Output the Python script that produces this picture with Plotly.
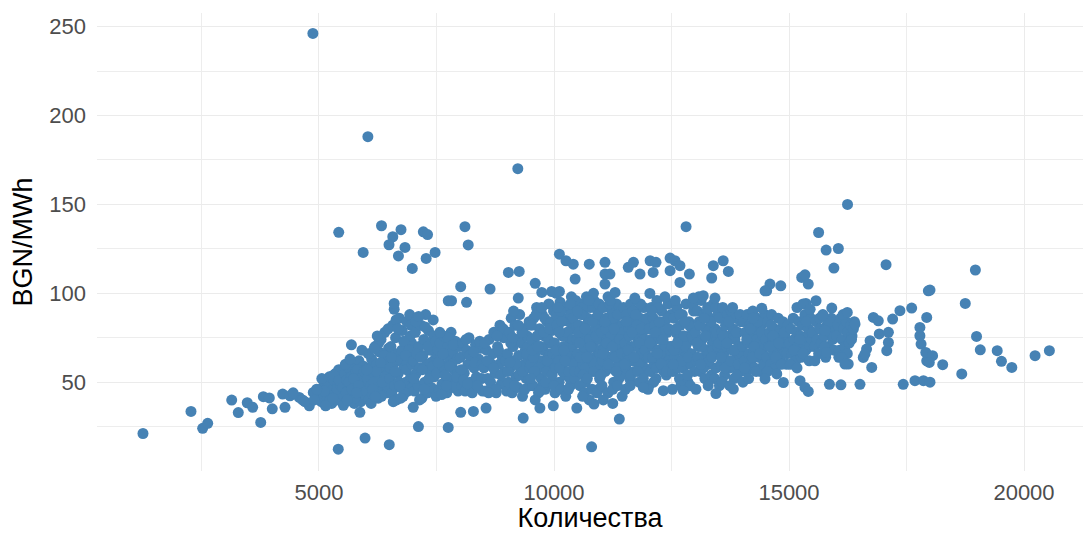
import plotly.graph_objects as go

# ---- dense core, by quantity bands ----
b01_x = [5020,5050,5080,5100,5120,5150,5180,5200,5220,5250,
         5270,5300,5320,5340,5360,5380,5400,5420,5440,5460,
         5480,5060,5140,5230,5310,5390,5470,5110,5290,5430]
b01_y = [44,39,47,42,50,45,41,48,53,44,
         38,46,51,43,55,40,49,57,45,52,
         42,52,37,40,54,46,48,45,41,51]
b02_x = [5510,5530,5550,5570,5590,5610,5630,5650,5670,5690,
         5710,5730,5750,5770,5790,5810,5830,5850,5870,5890,
         5910,5930,5950,5970,5990,5520,5580,5640,5700,5760,
         5820,5880,5940,5560,5660,5740,5840,5960,5600,5800]
b02_y = [47,42,55,39,51,45,58,41,49,53,
         44,60,38,47,56,42,50,62,45,39,
         54,48,59,43,51,37,44,50,46,41,
         57,52,47,60,63,52,48,56,40,44]
b03_x = [6010,6030,6060,6080,6100,6120,6150,6170,6190,6210,
         6230,6260,6280,6300,6320,6340,6360,6380,6400,6420,
         6440,6460,6480,6050,6110,6160,6220,6270,6330,6390,
         6450,6490,6020,6140,6240,6310,6410,6470,6200,6350]
b03_y = [45,52,40,58,48,63,43,55,70,47,
         60,41,67,52,74,45,58,49,78,62,
         54,44,69,66,38,50,56,72,42,65,
         48,59,57,46,76,61,53,80,42,50]
b04_x = [6510,6530,6550,6570,6590,6610,6630,6650,6670,6690,
         6710,6730,6750,6770,6790,6810,6830,6850,6870,6890,
         6910,6930,6950,6970,6990,6520,6580,6640,6700,6760,
         6820,6880,6940,6540,6620,6680,6740,6800,6860,6920,
         6980,6600,6720,6840,6960]
b04_y = [52,70,44,82,60,48,75,40,66,55,
         86,47,62,79,42,58,71,50,84,45,
         64,88,53,72,47,58,39,85,50,68,
         44,61,76,64,56,80,41,73,57,68,
         60,91,48,65,82]
b05_x = [7010,7030,7050,7070,7090,7110,7130,7150,7170,7190,
         7210,7230,7250,7270,7290,7310,7330,7350,7370,7390,
         7410,7430,7450,7470,7490,7020,7080,7140,7200,7260,
         7320,7380,7440,7060,7160,7240,7340,7420,7120,7480]
b05_y = [62,45,78,55,86,48,70,58,82,41,
         65,74,50,88,60,44,79,56,68,47,
         72,85,53,63,42,52,66,40,57,81,
         70,61,76,84,64,46,52,59,87,73]
b06_x = [7510,7530,7560,7580,7600,7620,7650,7670,7700,7720,
         7740,7760,7790,7810,7830,7850,7870,7900,7920,7940,
         7960,7980,7540,7610,7680,7750,7820,7890,7960,7570,
         7640,7710,7780,7860,7930]
b06_y = [55,68,46,72,60,49,76,58,65,44,
         70,52,62,78,47,67,57,73,50,63,
         45,70,61,43,54,75,60,48,56,78,
         66,48,59,71,53]
b07_x = [8010,8040,8060,8090,8110,8140,8170,8190,8220,8250,
         8270,8300,8330,8350,8380,8400,8430,8460,8480,8030,
         8080,8130,8200,8260,8320,8370,8420,8470,8160,8290]
b07_y = [64,48,72,55,45,68,60,75,50,66,
         46,58,71,53,47,63,69,52,45,57,
         51,74,65,44,61,48,73,60,49,67]
b08_x = [8510,8540,8560,8590,8620,8640,8670,8700,8720,8750,
         8770,8800,8830,8850,8880,8900,8930,8960,8990,8530,
         8580,8650,8710,8760,8820,8870,8920,8970,8610,8790]
b08_y = [58,45,68,52,74,61,47,66,78,55,
         44,70,60,82,49,64,75,56,45,72,
         62,50,58,46,68,54,80,62,44,76]
b09_x = [9010,9030,9050,9070,9090,9110,9130,9150,9170,9190,
         9210,9230,9250,9270,9290,9310,9330,9350,9370,9390,
         9410,9430,9450,9470,9490,9020,9080,9140,9200,9260,
         9320,9380,9440,9060,9160,9240,9340,9420,9120,9480]
b09_y = [66,50,78,58,86,44,70,62,82,53,
         74,47,65,88,57,72,42,80,60,68,
         52,76,63,84,48,56,72,90,60,54,
         78,46,70,61,48,82,56,66,75,58]
b10_x = [9510,9530,9550,9570,9590,9610,9630,9650,9670,9690,
         9710,9730,9750,9770,9790,9810,9830,9850,9870,9890,
         9910,9930,9950,9970,9990,9520,9560,9600,9640,9680,
         9720,9760,9800,9840,9880,9920,9960,9540,9620,9700,
         9780,9860,9940,9580,9660,9740,9820,9900,9980,9500]
b10_y = [60,74,48,86,66,55,92,70,44,80,
         62,52,88,68,76,46,58,84,64,94,
         72,50,79,60,90,82,64,40,76,58,
         70,48,86,56,74,66,54,68,88,45,
         78,62,84,56,70,92,50,80,66,52]
b11_x = [10010,10030,10050,10070,10090,10110,10130,10150,10170,10190,
         10210,10230,10250,10270,10290,10310,10330,10350,10370,10390,
         10410,10430,10450,10470,10490,10020,10060,10100,10140,10180,
         10220,10260,10300,10340,10380,10420,10460,10040,10080,10120,
         10160,10200,10240,10280,10320,10360,10400,10440,10480,10000,
         10050,10150,10250,10350,10450,10110,10210,10310,10410,10490]
b11_y = [72,58,88,64,80,50,95,68,76,60,
         86,54,92,70,62,84,74,48,98,66,
         80,58,90,72,64,44,82,62,90,56,
         76,66,86,52,70,60,96,68,92,58,
         84,70,62,78,56,88,74,52,82,48,
         100,46,42,94,56,78,68,46,86,74]
b12_x = [10510,10530,10550,10570,10590,10610,10630,10650,10670,10690,
         10710,10730,10750,10770,10790,10810,10830,10850,10870,10890,
         10910,10930,10950,10970,10990,10520,10560,10600,10640,10680,
         10720,10760,10800,10840,10880,10920,10960,10540,10580,10620,
         10660,10700,10740,10780,10820,10860,10900,10940,10980,10500,
         10550,10650,10750,10850,10950,10610,10710,10810,10910,10990]
b12_y = [66,82,56,94,72,60,88,76,50,98,
         68,84,62,92,56,78,70,96,64,86,
         58,90,74,52,82,78,64,92,70,58,
         86,74,62,100,80,68,94,72,88,54,
         80,64,96,70,84,60,76,88,66,90,
         48,44,40,56,46,42,52,46,44,60]
b13_x = [11010,11030,11050,11070,11090,11110,11130,11150,11170,11190,
         11210,11230,11250,11270,11290,11310,11330,11350,11370,11390,
         11410,11430,11450,11470,11490,11020,11060,11100,11140,11180,
         11220,11260,11300,11340,11380,11420,11460,11040,11080,11120,
         11160,11200,11240,11280,11320,11360,11400,11440,11480,11000,
         11150,11250,11350,11450,11050]
b13_y = [78,62,92,70,56,86,74,98,64,82,
         58,90,72,50,84,66,94,76,60,88,
         70,54,82,74,62,48,68,80,58,94,
         76,86,64,72,52,90,78,66,84,72,
         60,96,70,80,56,88,74,66,92,54,
         44,46,48,42,40]
b14_x = [11510,11530,11550,11570,11590,11610,11630,11650,11670,11690,
         11710,11730,11750,11770,11790,11810,11830,11850,11870,11890,
         11910,11930,11950,11970,11990,11520,11560,11600,11640,11680,
         11720,11760,11800,11840,11880,11920,11960,11540,11580,11620,
         11660,11700,11740,11780,11820,11860,11900,11940,11980,11500]
b14_y = [72,58,88,66,80,52,94,70,62,84,
         56,76,90,64,74,50,86,68,60,78,
         92,58,72,82,64,46,62,76,54,90,
         70,82,60,94,66,74,56,84,68,48,
         78,64,88,56,72,80,52,68,86,60]
b15_x = [12010,12030,12050,12070,12090,12110,12130,12150,12170,12190,
         12210,12230,12250,12270,12290,12310,12330,12350,12370,12390,
         12410,12430,12450,12470,12490,12020,12060,12100,12140,12180,
         12220,12260,12300,12340,12380,12420,12460,12040,12080,12120,
         12160,12200,12240,12280,12320,12360,12400,12440,12480,12000]
b15_y = [64,80,56,92,70,86,60,74,52,96,
         68,82,62,76,90,58,72,84,66,54,
         78,94,62,70,88,48,74,64,82,58,
         92,66,78,56,70,86,60,72,90,50,
         78,66,84,60,74,98,56,80,68,46]
b16_x = [12510,12530,12550,12570,12590,12610,12630,12650,12670,12690,
         12710,12730,12750,12770,12790,12810,12830,12850,12870,12890,
         12910,12930,12950,12970,12990,12520,12560,12600,12640,12680,
         12720,12760,12800,12840,12880,12920,12960,12540,12620,12700,
         12780,12860,12940,12580,12900]
b16_y = [70,56,86,64,78,92,60,74,52,82,
         68,88,58,76,64,94,72,50,84,66,
         60,80,74,90,56,46,68,80,58,88,
         62,76,70,54,82,66,94,60,72,48,
         84,64,76,96,48]
b17_x = [13010,13030,13050,13070,13090,13110,13130,13150,13170,13190,
         13210,13230,13250,13270,13290,13310,13330,13350,13370,13390,
         13410,13430,13450,13470,13490,13020,13060,13100,13140,13180,
         13220,13260,13300,13340,13380,13420,13460,13040,13120,13200,
         13280,13360,13440,13080,13480]
b17_y = [78,62,90,70,84,56,96,74,64,88,
         52,80,68,92,60,76,86,54,72,94,
         66,80,58,74,88,46,64,82,70,58,
         76,90,62,84,68,52,78,72,60,86,
         48,64,92,98,70]
b18_x = [13510,13530,13550,13570,13590,13610,13630,13650,13670,13690,
         13710,13730,13750,13770,13790,13810,13830,13850,13870,13890,
         13910,13930,13950,13970,13990,13520,13560,13600,13640,13680,
         13720,13760,13800,13840,13880,13920,13960,13580,13740,13900]
b18_y = [72,86,60,78,92,66,54,82,70,88,
         62,76,58,90,68,80,52,74,86,64,
         78,70,56,84,66,48,64,76,58,72,
         84,62,92,68,78,60,88,50,48,54]
b19_x = [14010,14030,14050,14070,14090,14110,14130,14150,14170,14190,
         14210,14230,14250,14270,14290,14310,14330,14350,14370,14390,
         14410,14430,14450,14470,14490,14020,14060,14100,14140,14180,
         14220,14260,14300,14340,14380,14420,14460,14240]
b19_y = [70,84,62,78,56,88,72,66,82,60,
         76,90,68,58,80,74,86,64,72,56,
         82,68,76,62,88,50,58,74,52,80,
         64,70,56,84,66,78,60,86]
b20_x = [14510,14530,14550,14570,14590,14610,14630,14650,14670,14690,
         14710,14730,14750,14770,14790,14810,14830,14850,14870,14890,
         14910,14930,14950,14970,14990,14540,14600,14660,14720,14780,
         14840,14900,14960,14620]
b20_y = [74,64,84,70,78,60,88,72,66,80,
         58,76,68,86,74,62,80,70,84,66,
         76,72,60,82,68,56,70,76,64,72,
         60,78,66,82]
b21_x = [15010,15040,15060,15090,15110,15140,15160,15190,15210,15240,
         15260,15290,15310,15340,15360,15390,15410,15440,15460,15490,
         15030,15100,15170,15230,15300,15370,15430,15480]
b21_y = [72,80,66,86,74,62,78,70,84,76,
         64,82,72,88,68,76,80,70,86,74,
         60,68,58,74,66,84,62,78]
b22_x = [15510,15540,15570,15600,15630,15660,15690,15720,15750,15780,
         15810,15840,15870,15900,15930,15960,15990,15550,15650,15750,
         15850,15950]
b22_y = [78,70,84,74,66,80,72,88,76,64,
         82,70,78,86,74,68,80,62,86,70,
         84,76]
b23_x = [16010,16040,16070,16100,16130,16160,16190,16220,16250,16280,
         16310,16340,16370,16060,16150,16240,16330,16390]
b23_y = [76,82,68,86,74,80,70,84,78,72,
         82,76,80,64,88,66,74,84]

# ---- scattered points ----
high_x = [4870,6040,9230,16245,5420,5940,6330,6570,6490,6745,
          6830,6690,6985,7220,7310,7470,7280,6600,7750,8105,
          8175,8015,8640,7820,8140,9030,9260,9240,9600,9740,
          9950,10115,10115,10255,10410,10750,11085,11085,10450,12810,
          11190,11085,11580,11690,11830,12045,12170,12110,12470,12575,
          12680,12470,12880,12680,13390,13600,13710,13355,14525,14595,
          14825,15270,15340,15410,15630,15790,16050,15955,17065,17965,
          18965,18750,11300,11720,12040,12965,13175,13425,14490,14420]
high_y = [246.2,188.1,170.1,150,134.3,123,138,131.8,127.3,135.8,
          125.8,121,114,134.6,133,123,119.6,94.3,95.8,137.5,
          127.2,103.7,102.4,95.8,94.9,111.7,112.3,97.3,105.6,100.5,
          101,101,122,118.3,116.4,116.4,117.4,110.8,108,137.5,
          110.8,105.2,114.6,117.4,110.8,118.3,117.4,111.7,119.8,118.3,
          115.5,112.7,110.8,106.1,115.5,118.3,112.3,108.6,101.4,105.2,
          104.2,108.9,110.4,105.2,134.2,124.3,125.2,114.2,116.1,101.4,
          113.1,94.3,100.5,97.3,99.9,97.3,98.6,97.3,101.4,91.6]
right_x = [15360,15575,15715,15910,16240,16405,16725,16920,17115,17115,
           17080,16650,16580,16760,16120,16260,15800,15765,17785,17785,
           17810,17930,17910,17610,17360,17205,16795,16900,16615,16190,
           14490,14740,14880,15235,15340,15410,15860,16105,16510,17430,
           17680,17860,18000,18000,17930,18990,19070,19430,19520,19740,
           20235,20540,18055,17985,18270,18675,15170,15300,15450]
right_y = [94.3,95.8,87.4,91.7,89.2,82.7,73.3,77.1,78,72.3,
           67.7,68.6,63.9,58.3,63.9,60.2,66.7,79,80.8,76.1,
           71.4,62,66.7,91.7,90.2,85.5,86.4,84.5,65.7,60.2,
           51.8,54.6,49.8,50.8,47,44.8,48.8,48.5,48.8,48.8,
           50.8,50.8,50,101.8,86.4,75.7,68.2,67.7,61.7,58.3,
           64.9,67.7,64.9,61.1,59.8,54.6,92,94,91]
low_x = [5870,5980,5410,6495,7115,7005,7750,8015,8285,8555,
         9345,9700,9985,10485,10800,10850,11390,11250,13445,13815,
         12750,12325,11900]
low_y = [33,18.5,12.3,14.8,25,35.8,24.5,33,33.5,35.4,
         29.8,35.4,36.7,35.4,13.6,37.7,29.2,38,43.6,46.1,
         45.2,45.2,47]
tail_x = [1255,2277,2525,2632,3143,3283,3474,3589,3760,3816,
          3943,4006,4227,4277,4383,4581,4794,4879,5142,4450,
          4650,4700,4900,4950,5690,6175,5915]
tail_y = [21.1,33.5,24,26.8,39.9,32.9,38.4,35.8,27.3,41.8,
          41.1,35,43.3,35.8,42.3,41.4,36.7,44.2,36.7,44,
          40,39,40,46,71,69,68]

x_ticks = [5000, 10000, 15000, 20000]
y_ticks = [50, 100, 150, 200, 250]

groups = [
    (b01_x, b01_y), (b02_x, b02_y), (b03_x, b03_y), (b04_x, b04_y),
    (b05_x, b05_y), (b06_x, b06_y), (b07_x, b07_y), (b08_x, b08_y),
    (b09_x, b09_y), (b10_x, b10_y), (b11_x, b11_y), (b12_x, b12_y),
    (b13_x, b13_y), (b14_x, b14_y), (b15_x, b15_y), (b16_x, b16_y),
    (b17_x, b17_y), (b18_x, b18_y), (b19_x, b19_y), (b20_x, b20_y),
    (b21_x, b21_y), (b22_x, b22_y), (b23_x, b23_y),
    (high_x, high_y), (right_x, right_y), (low_x, low_y), (tail_x, tail_y),
]
qty, price = [], []
for gx, gy in groups:
    n = min(len(gx), len(gy))
    qty.extend(gx[:n])
    price.extend(gy[:n])

fig = go.Figure(go.Scatter(
    x=qty, y=price, mode="markers",
    marker=dict(color="#4682B4", size=11, line=dict(width=0)),
    showlegend=False,
))

font_family = "Liberation Sans, Arial, sans-serif"
fig.update_layout(
    width=1083, height=533,
    margin=dict(l=97, r=0, t=13, b=62),
    paper_bgcolor="white", plot_bgcolor="white",
    font=dict(family=font_family),
)
fig.update_xaxes(
    range=[277, 21255],
    tickvals=x_ticks, ticktext=[str(v) for v in x_ticks],
    showgrid=True, gridcolor="#EBEBEB", gridwidth=1.2,
    minor=dict(tickvals=[2500, 7500, 12500, 17500], showgrid=True,
               gridcolor="#EDEDED", gridwidth=0.6),
    zeroline=False, showline=False, ticks="",
    tickfont=dict(size=22, color="#4D4D4D"),
    ticklabelstandoff=6,
    title=dict(text="Количества", font=dict(size=27, color="black"), standoff=10),
)
fig.update_yaxes(
    range=[0, 257.7],
    tickvals=y_ticks, ticktext=[str(v) for v in y_ticks],
    showgrid=True, gridcolor="#EBEBEB", gridwidth=1.2,
    minor=dict(tickvals=[25, 75, 125, 175, 225], showgrid=True,
               gridcolor="#EDEDED", gridwidth=0.6),
    zeroline=False, showline=False, ticks="",
    tickfont=dict(size=22, color="#4D4D4D"),
    ticklabelstandoff=10,
    title=dict(text="BGN/MWh", font=dict(size=27, color="black"), standoff=8),
)

fig.write_html(
    "out.html",
    config={"displayModeBar": False},
    post_script="document.body.style.margin='0px';document.body.style.overflow='hidden';",
)
